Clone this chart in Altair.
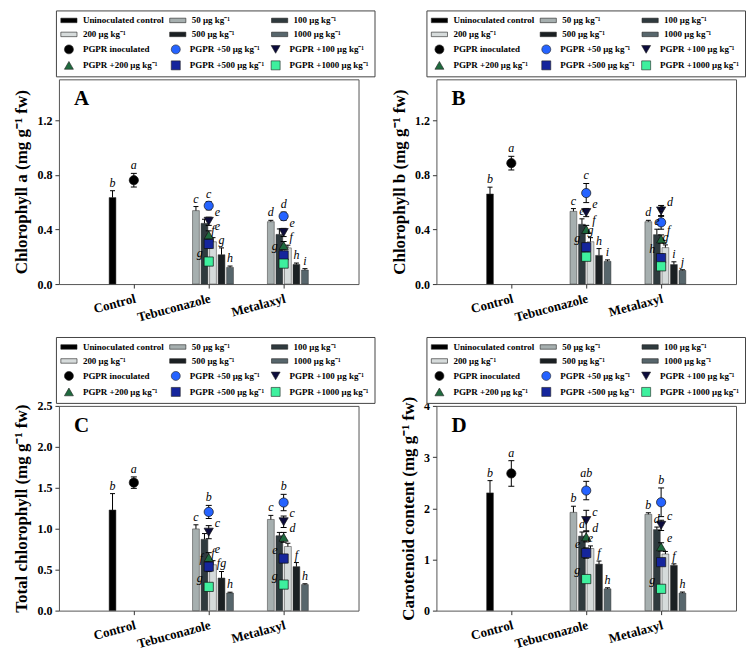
import altair as alt
import pandas as pd

GROUPS = ["Control", "Tebuconazole", "Metalaxyl"]
BAR_SERIES = ["Uninoculated control", "50 μg kg⁻¹", "100 μg kg⁻¹", "200 μg kg⁻¹",
              "500 μg kg⁻¹", "1000 μg kg⁻¹"]
PT_SERIES = ["PGPR inoculated", "PGPR +50 μg kg⁻¹", "PGPR +100 μg kg⁻¹",
             "PGPR +200 μg kg⁻¹", "PGPR +500 μg kg⁻¹", "PGPR +1000 μg kg⁻¹"]
ALL_SERIES = BAR_SERIES + PT_SERIES

BAR_GROUP = ["Control"] + ["Tebuconazole"] * 5 + ["Metalaxyl"] * 5
BAR_NAME = [BAR_SERIES[0]] + BAR_SERIES[1:] * 2
PT_GROUP = ["Control"] + ["Tebuconazole"] * 5 + ["Metalaxyl"] * 5
PT_NAME = [PT_SERIES[0]] + PT_SERIES[1:] * 2

# Panel A: Chlorophyll a
A_bar = [0.634, 0.538, 0.445, 0.31, 0.215, 0.122, 0.457, 0.364, 0.265, 0.144, 0.103]
A_bar_err = [0.05, 0.03, 0.03, 0.03, 0.05, 0.01, 0.01, 0.04, 0.02, 0.01, 0.01]
A_bar_let = ["b", "c", "", "f", "g", "h", "d", "", "", "h", "i"]
A_pt = [0.761, 0.574, 0.46, 0.36, 0.294, 0.165, 0.497, 0.378, 0.282, 0.21, 0.15]
A_pt_err = [0.05, 0.03, 0.03, 0.03, 0.03, 0.02, 0.03, 0.03, 0.03, 0.02, 0.02]
A_pt_let = ["a", "c", "e", "e", "", "g", "d", "e", "f", "g", ""]

# Panel B: Chlorophyll b
B_bar = [0.66, 0.533, 0.438, 0.31, 0.21, 0.167, 0.457, 0.362, 0.267, 0.143, 0.1]
B_bar_err = [0.05, 0.02, 0.04, 0.03, 0.05, 0.01, 0.01, 0.04, 0.02, 0.02, 0.005]
B_bar_let = ["b", "c", "e", "g", "h", "i", "d", "e", "g", "i", "j"]
B_pt = [0.886, 0.667, 0.524, 0.40, 0.27, 0.20, 0.452, 0.536, 0.33, 0.19, 0.13]
B_pt_err = [0.05, 0.07, 0.03, 0.03, 0.03, 0.02, 0.05, 0.04, 0.03, 0.03, 0.02]
B_pt_let = ["a", "c", "e", "f", "g", "", "e", "d", "f", "h", ""]

# Panel C: Total chlorophyll
C_bar = [1.229, 0.998, 0.871, 0.56, 0.398, 0.215, 1.113, 0.915, 0.783, 0.537, 0.318]
C_bar_err = [0.2, 0.05, 0.07, 0.05, 0.08, 0.01, 0.05, 0.04, 0.04, 0.05, 0.01]
C_bar_let = ["b", "c", "", "f", "fg", "h", "c", "", "", "f", "h"]
C_pt = [1.563, 1.205, 0.958, 0.648, 0.537, 0.29, 1.32, 1.085, 0.895, 0.636, 0.318]
C_pt_err = [0.07, 0.08, 0.08, 0.06, 0.06, 0.04, 0.1, 0.07, 0.06, 0.05, 0.04]
C_pt_let = ["a", "b", "c", "e", "f", "g", "b", "c", "d", "e", "g"]

# Panel D: Carotenoid content
D_bar = [2.30, 1.92, 1.456, 1.214, 0.909, 0.426, 1.882, 1.583, 1.106, 0.884, 0.343]
D_bar_err = [0.24, 0.12, 0.08, 0.05, 0.06, 0.02, 0.03, 0.05, 0.05, 0.03, 0.02]
D_bar_let = ["b", "b", "d", "e", "f", "h", "b", "d", "", "f", "h"]
D_pt = [2.68, 2.346, 1.76, 1.443, 1.125, 0.617, 2.117, 1.666, 1.246, 0.947, 0.426]
D_pt_err = [0.25, 0.18, 0.2, 0.1, 0.1, 0.06, 0.28, 0.1, 0.08, 0.06, 0.05]
D_pt_let = ["a", "ab", "c", "d", "e", "g", "b", "c", "e", "", "g"]

COLORS = ["#000000", "#a6afaf", "#2f3a3e", "#d6dbdb", "#1b2023", "#57666c",
          "#000000", "#2563ff", "#0c0c3c", "#1f6a3e", "#15259c", "#3ef09e"]
RECT = "M-1.8,-0.5H1.8V0.5H-1.8Z"
SHAPES = [RECT] * 6 + ["circle", "circle", "triangle-down", "triangle-up", "square", "square"]

SERIF = "Liberation Serif"


def panel(letter, ytitle, ymax, yvals, yfmt, bv, be, bl, pv, pe, pl, legx):
    bars = pd.DataFrame({"group": BAR_GROUP, "series": BAR_NAME, "value": bv,
                         "err": be, "letter": bl})
    bars["top"] = bars["value"] + bars["err"]
    pts = pd.DataFrame({"group": PT_GROUP, "series": PT_NAME, "value": pv,
                        "err": pe, "letter": pl})
    pts["lo"] = pts["value"] - pts["err"]
    pts["hi"] = pts["value"] + pts["err"]

    x = alt.X("group:N",
              scale=alt.Scale(domain=GROUPS, paddingInner=0.34, paddingOuter=0.67),
              axis=alt.Axis(title=None, labelAngle=-15, labelAlign="right",
                            labelBaseline="top", labelFontSize=13, labelPadding=4,
                            tickSize=4, domain=False))
    xo = alt.XOffset("series:N", scale=alt.Scale(domain=BAR_SERIES, paddingInner=0.2))
    yscale = alt.Scale(domain=[0, ymax], nice=False, zero=True)
    y = alt.Y("value:Q", scale=yscale,
              axis=alt.Axis(title=ytitle, values=yvals, format=yfmt, tickSize=4,
                            labelPadding=3, titlePadding=6, domain=False))
    leg = alt.Legend(title=None, orient="none", legendX=legx, legendY=-69, columns=3,
                     direction="horizontal", gridAlign="none", strokeColor="#444",
                     fillColor="white", padding=5, labelFont=SERIF,
                     labelFontWeight="bold", labelFontSize=9, labelColor="black",
                     symbolSize=81, symbolOffset=3, labelOffset=9, columnPadding=3,
                     rowPadding=4, symbolStrokeColor="#222", symbolStrokeWidth=0.6,
                     labelLimit=200)
    fill = alt.Fill("series:N", scale=alt.Scale(domain=ALL_SERIES, range=COLORS), legend=leg)
    shape = alt.Shape("series:N", scale=alt.Scale(domain=ALL_SERIES, range=SHAPES), legend=leg)

    bar_layer = alt.Chart(bars).mark_bar(stroke="#333", strokeWidth=0.5).encode(
        x=x, xOffset=xo, y=y, fill=fill)
    bar_err = alt.Chart(bars).mark_rule(color="black", strokeWidth=1).encode(
        x=x, xOffset=xo, y=alt.Y("value:Q", scale=yscale), y2="top:Q")
    bar_cap = alt.Chart(bars).mark_tick(color="black", size=5, thickness=1, opacity=1,
                                        orient="horizontal").encode(
        x=x, xOffset=xo, y=alt.Y("top:Q", scale=yscale))
    pt_err = alt.Chart(pts).mark_rule(color="black", strokeWidth=1).encode(
        x=x, y=alt.Y("lo:Q", scale=yscale), y2="hi:Q")
    pt_cap_lo = alt.Chart(pts).mark_tick(color="black", size=6, thickness=1, opacity=1,
                                         orient="horizontal").encode(
        x=x, y=alt.Y("lo:Q", scale=yscale))
    pt_cap_hi = alt.Chart(pts).mark_tick(color="black", size=6, thickness=1, opacity=1,
                                         orient="horizontal").encode(
        x=x, y=alt.Y("hi:Q", scale=yscale))
    pt_layer = alt.Chart(pts).mark_point(filled=True, size=85, stroke="#111",
                                         strokeWidth=0.7, opacity=1).encode(
        x=x, y=y, fill=fill, shape=shape)

    txt = dict(font=SERIF, fontStyle="italic", fontSize=12, color="black")
    bar_txt = alt.Chart(bars).mark_text(baseline="bottom", dy=-1, **txt).encode(
        x=x, xOffset=xo, y=alt.Y("top:Q", scale=yscale), text="letter:N")
    pt_above = alt.Chart(pts).transform_filter(
        alt.FieldOneOfPredicate(field="series", oneOf=PT_SERIES[:2])
    ).mark_text(baseline="bottom", dy=-1, **txt).encode(
        x=x, y=alt.Y("hi:Q", scale=yscale), text="letter:N")
    pt_right = alt.Chart(pts).transform_filter(
        alt.FieldOneOfPredicate(field="series", oneOf=PT_SERIES[2:4])
    ).mark_text(baseline="bottom", align="left", dx=6, dy=-2, **txt).encode(
        x=x, y=alt.Y("value:Q", scale=yscale), text="letter:N")
    pt_left = alt.Chart(pts).transform_filter(
        alt.FieldOneOfPredicate(field="series", oneOf=PT_SERIES[4:])
    ).mark_text(baseline="bottom", align="right", dx=-6, dy=-2, **txt).encode(
        x=x, y=alt.Y("value:Q", scale=yscale), text="letter:N")
    tag = alt.Chart(pd.DataFrame({"t": [letter]})).mark_text(
        font=SERIF, fontSize=21, fontWeight="bold", align="left", baseline="top",
        color="black").encode(x=alt.value(15), y=alt.value(9), text="t:N")

    return alt.layer(bar_layer, bar_err, bar_cap, pt_err, pt_cap_lo, pt_cap_hi,
                     pt_layer, bar_txt, pt_above, pt_right, pt_left, tag
                     ).properties(width=300, height=205)


pA = panel("A", "Chlorophyll a (mg g⁻¹ fw)", 1.5, [0, 0.2, 0.4, 0.6, 0.8, 1.0, 1.2, 1.4], ".1f",
           A_bar, A_bar_err, A_bar_let, A_pt, A_pt_err, A_pt_let, -3)
pB = panel("B", "Chlorophyll b (mg g⁻¹ fw)", 1.5, [0, 0.2, 0.4, 0.6, 0.8, 1.0, 1.2, 1.4], ".1f",
           B_bar, B_bar_err, B_bar_let, B_pt, B_pt_err, B_pt_let, -10)
pC = panel("C", "Total chlorophyll (mg g⁻¹ fw)", 2.5, [0, 0.5, 1.0, 1.5, 2.0, 2.5], ".1f",
           C_bar, C_bar_err, C_bar_let, C_pt, C_pt_err, C_pt_let, -3)
pD = panel("D", "Carotenoid content (mg g⁻¹ fw)", 4, [0, 1, 2, 3, 4], "d",
           D_bar, D_bar_err, D_bar_let, D_pt, D_pt_err, D_pt_let, -10)

chart = alt.concat(pA, pB, pC, pD, columns=2, spacing={"row": 122, "column": 78},
                   bounds="flush").resolve_scale(
    fill="independent", shape="independent", x="independent", y="independent",
    xOffset="independent").resolve_legend(fill="independent", shape="independent"
).properties(
    padding={"left": 4, "top": 1, "right": 2, "bottom": 2}
).configure_view(stroke="#555", strokeWidth=1).configure_axis(
    grid=False, labelFont=SERIF, labelFontWeight="bold", labelFontSize=12,
    labelColor="black", titleFont=SERIF, titleFontWeight="bold", titleFontSize=17,
    titleColor="black", tickColor="#333", domainColor="#333"
)

chart.save("out.html", embed_options={"renderer": "svg", "actions": False})
